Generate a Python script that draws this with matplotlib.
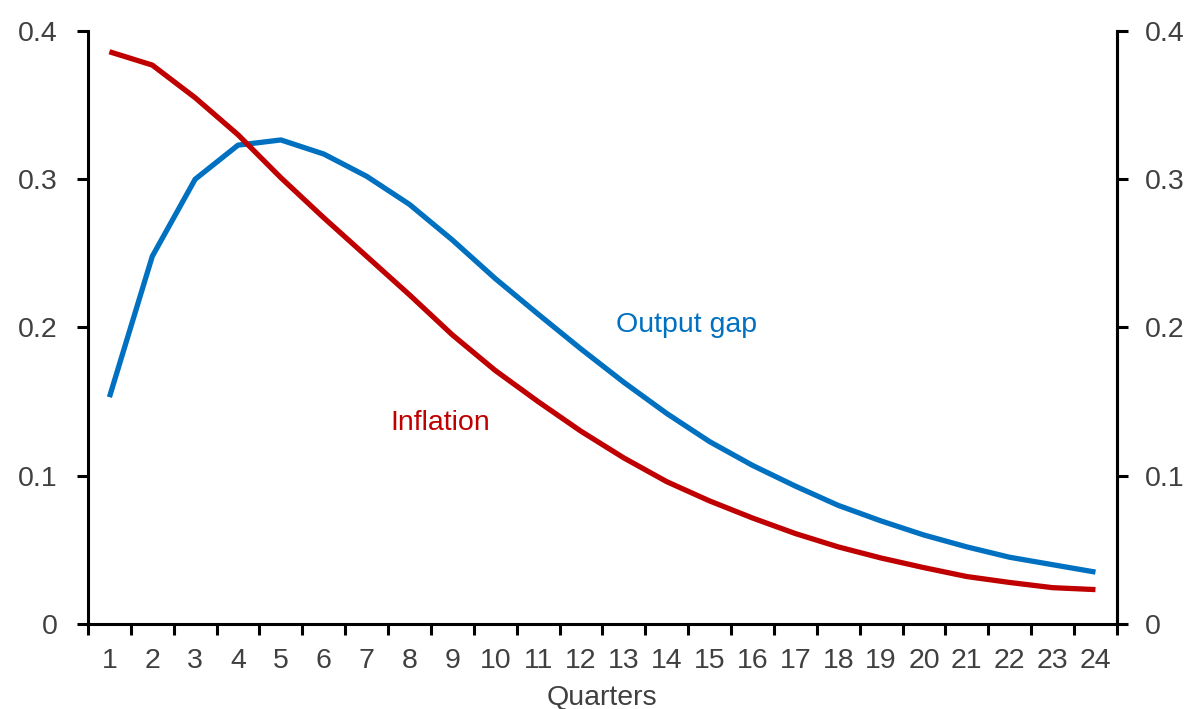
import matplotlib.pyplot as plt
import numpy as np

plt.rcParams['font.family'] = ['Liberation Sans', 'DejaVu Sans']

quarters = list(range(1, 25))
inflation = [0.386, 0.377, 0.355, 0.330, 0.301, 0.274, 0.248, 0.222, 0.195, 0.171,
             0.150, 0.130, 0.112, 0.096, 0.083, 0.0715, 0.061, 0.052, 0.0445, 0.038,
             0.032, 0.028, 0.0245, 0.0232]
output_gap = [0.153, 0.248, 0.300, 0.323, 0.3265, 0.317, 0.302, 0.283, 0.259, 0.233,
              0.209, 0.1855, 0.163, 0.142, 0.123, 0.107, 0.093, 0.080, 0.0695, 0.060,
              0.052, 0.045, 0.040, 0.035]
y_ticks = [0, 0.1, 0.2, 0.3, 0.4]
y_labels = ['0', '0.1', '0.2', '0.3', '0.4']

red = '#C00000'
blue = '#0070C0'
txt = '#404040'
fs = 20.5

fig = plt.figure(figsize=(11.92, 7.09), dpi=100)
ax = fig.add_axes([0.0738, 0.1199, 0.8632, 0.8364])

ax.plot(quarters, output_gap, color=blue, lw=3.8, solid_capstyle='butt')
ax.plot(quarters, inflation, color=red, lw=3.8, solid_capstyle='butt')

ax.set_xlim(0.5, 24.5)
ax.set_ylim(0, 0.4)

ax.spines['top'].set_visible(False)
for s in ['left', 'right', 'bottom']:
    ax.spines[s].set_linewidth(2.2)
    ax.spines[s].set_color('black')

ax.set_xticks(np.arange(0.5, 25, 1))
ax.set_xticklabels([])
ax.set_xticks(quarters, minor=True)
ax.set_xticklabels([str(q) for q in quarters], minor=True)
ax.tick_params(axis='x', which='major', direction='out', length=8, width=2.2)
ax.tick_params(axis='x', which='minor', length=0, pad=17, labelsize=fs, labelcolor=txt)

ax.set_yticks(y_ticks)
ax.set_yticklabels(y_labels)
ax.tick_params(axis='y', direction='out', length=8, width=2.2, pad=14,
               labelsize=fs, labelcolor=txt)

ax2 = ax.twinx()
ax2.set_ylim(0, 0.4)
ax2.set_yticks(y_ticks)
ax2.set_yticklabels(y_labels)
ax2.tick_params(axis='y', direction='out', length=8, width=2.2, pad=12,
                labelsize=fs, labelcolor=txt)
for s in ['top', 'left', 'bottom']:
    ax2.spines[s].set_visible(False)
ax2.spines['right'].set_linewidth(2.2)

ax.set_xlabel('Quarters', fontsize=fs, color=txt, labelpad=8)

ax.text(14.47, 0.2017, 'Output gap', color=blue, fontsize=fs, ha='center', va='center')
ax.text(8.72, 0.1356, 'Inflation', color=red, fontsize=fs, ha='center', va='center')

fig.savefig('out.png', dpi=100)
